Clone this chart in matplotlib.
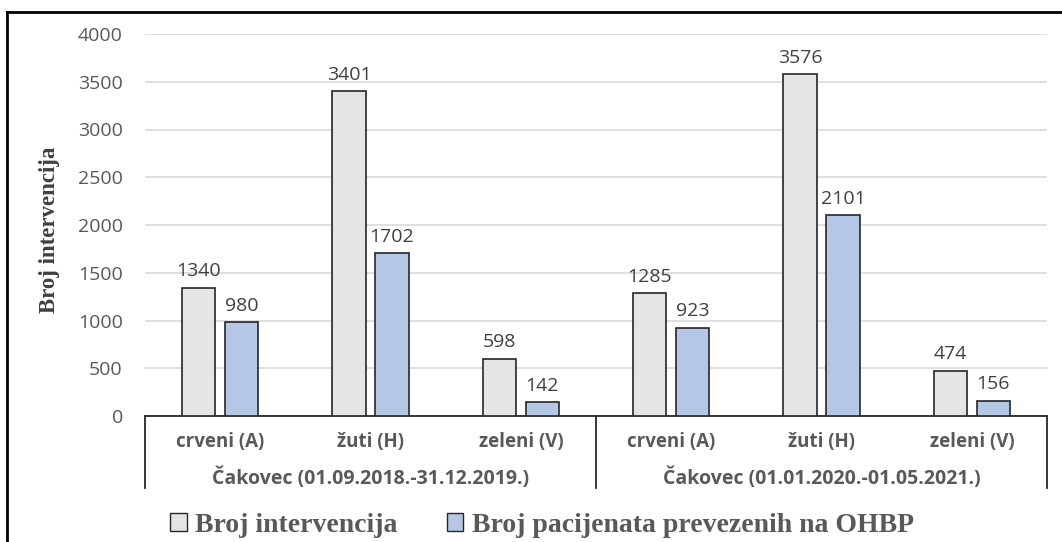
import matplotlib
matplotlib.use("Agg")
import matplotlib.pyplot as plt
import numpy as np
from matplotlib.patches import Rectangle
from matplotlib.lines import Line2D

categories = ["crveni (A)", "žuti (H)", "zeleni (V)", "crveni (A)", "žuti (H)", "zeleni (V)"]
groups = ["Čakovec (01.09.2018.-31.12.2019.)", "Čakovec (01.01.2020.-01.05.2021.)"]
series_names = ["Broj intervencija", "Broj pacijenata prevezenih na OHBP"]
intervencije = [1340, 3401, 598, 1285, 3576, 474]
pacijenti = [980, 1702, 142, 923, 2101, 156]
yticks = [0, 500, 1000, 1500, 2000, 2500, 3000, 3500, 4000]

gray_fill = "#E5E5E5"
blue_fill = "#B4C7E7"
txt = "#595959"

fig = plt.figure(figsize=(10.62, 5.42), dpi=100)
ax = fig.add_axes([145/1062, 126/542, 902/1062, 382/542])

x = np.arange(len(categories))
w = 0.22
off = 0.143
b1 = ax.bar(x - off, intervencije, w, color=gray_fill, edgecolor="#262626", linewidth=1.2, zorder=3)
b2 = ax.bar(x + off, pacijenti, w, color=blue_fill, edgecolor="#262626", linewidth=1.2, zorder=3)

for bars, vals in ((b1, intervencije), (b2, pacijenti)):
    for r, v in zip(bars, vals):
        ax.annotate(str(v), (r.get_x() + r.get_width()/2, v), xytext=(0, 5.5),
                    textcoords="offset points", ha="center", va="bottom",
                    fontsize=14, color="#404040", family="Open Sans")

ax.set_xlim(-0.5, len(categories) - 0.5)
ax.set_ylim(0, 4000)
ax.set_yticks(yticks)
ax.set_yticklabels([str(t) for t in yticks], fontsize=14, color=txt, family="Open Sans")
ax.tick_params(axis="y", length=0, pad=16)
ax.set_xticks([])
ax.grid(axis="y", color="#D9D9D9", linewidth=1.2, zorder=0)
for s in ["top", "right", "left"]:
    ax.spines[s].set_visible(False)
ax.spines["bottom"].set_color("#262626")
ax.spines["bottom"].set_linewidth(1.3)

tr = ax.get_xaxis_transform()
bottom = -72/382
for xv in (-0.5, 2.5, 5.5):
    ax.add_line(Line2D([xv, xv], [0, bottom], transform=tr, color="#262626", lw=1.3, clip_on=False))
for i, c in enumerate(categories):
    ax.text(i, -26/382, c, transform=tr, ha="center", va="center", fontsize=13.5,
            fontweight="bold", color=txt, family="Open Sans")
for g, name in enumerate(groups):
    ax.text(1 + 3*g, -62/382, name, transform=tr, ha="center", va="center", fontsize=14,
            fontweight="bold", color=txt, family="Open Sans")

fig.text(50/1062, 1 - 230/542, "Broj intervencija", rotation=90, ha="center", va="center",
         fontsize=16.5, fontweight="bold", color="#404040", family="Liberation Serif")

handles = [Rectangle((0, 0), 1, 1, facecolor=gray_fill, edgecolor="#262626", lw=1.0),
           Rectangle((0, 0), 1, 1, facecolor=blue_fill, edgecolor="#262626", lw=1.0)]
leg = fig.legend(handles, series_names, loc="center left", bbox_to_anchor=(170/1062, 1 - 525/542),
                 ncol=2, frameon=False, handlelength=0.6, handleheight=0.6, handletextpad=0.3,
                 columnspacing=1.77, borderpad=0, borderaxespad=0,
                 prop={"family": "Liberation Serif", "weight": "bold", "size": 20})
for t in leg.get_texts():
    t.set_color(txt)

# outer chart border (left and top visible)
fig.add_artist(Line2D([7/1062, 7/1062], [0, 1 - 12/542], transform=fig.transFigure, color="black", lw=2))
fig.add_artist(Line2D([7/1062, 1], [1 - 12/542, 1 - 12/542], transform=fig.transFigure, color="black", lw=2))

fig.savefig("out.png", dpi=100)
